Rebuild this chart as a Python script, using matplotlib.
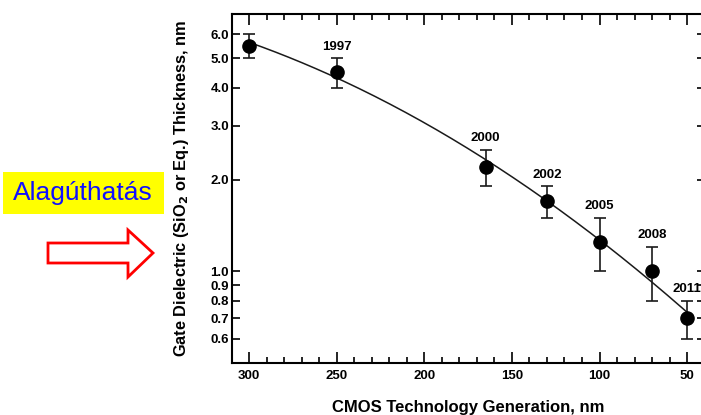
import numpy as np
import matplotlib.pyplot as plt
from matplotlib.patches import Polygon, Rectangle
from matplotlib.ticker import FixedLocator, MultipleLocator, FormatStrFormatter

plt.rcParams["font.family"] = ["Liberation Sans", "DejaVu Sans"]

# data
gen_nm = [300, 250, 165, 130, 100, 70, 50]
thickness = [5.5, 4.5, 2.2, 1.7, 1.25, 1.0, 0.7]
err_top = [6.0, 5.0, 2.5, 1.9, 1.5, 1.2, 0.8]
err_bottom = [5.0, 4.0, 1.9, 1.5, 1.0, 0.8, 0.6]
years = ["", "1997", "2000", "2002", "2005", "2008", "2011"]

# readings along the trend curve
curve_nm = [300, 250, 200, 165, 130, 100, 70, 50]
curve_t = [5.6, 4.4, 3.05, 2.3, 1.72, 1.25, 0.93, 0.73]

y_ticks = [0.6, 0.7, 0.8, 0.9, 1.0, 2.0, 3.0, 4.0, 5.0, 6.0]

W, H = 701, 415
fig = plt.figure(figsize=(W / 100, H / 100), dpi=100)
ax = fig.add_axes([231.7 / W, 1 - 362.7 / H, (704.6 - 231.7) / W, (362.7 - 14) / H])

# smooth trend through the curve readings
coef = np.polyfit(curve_nm, np.log10(curve_t), 2)
xs = np.linspace(curve_nm[0], curve_nm[-1], 200)
ax.plot(xs, 10 ** np.polyval(coef, xs), color="#1a1a1a", lw=1.1, zorder=2)

t = np.array(thickness)
yerr = [t - np.array(err_bottom), np.array(err_top) - t]
ax.errorbar(gen_nm, thickness, yerr=yerr, fmt="o", color="black", ms=9.5,
            ecolor="#1a1a1a", elinewidth=1.2, capsize=4, capthick=1.2, zorder=3)

for x, top, lab in zip(gen_nm, err_top, years):
    if lab:
        ax.annotate(lab, xy=(x, top), xytext=(0, 4), textcoords="offset points",
                    ha="center", va="bottom", fontsize=9.5, fontweight="bold",
                    annotation_clip=False)

ax.set_yscale("log")
ax.set_xlim(310, 40)
ax.set_ylim(0.5, 7.0)
ax.yaxis.set_major_locator(FixedLocator(y_ticks))
ax.yaxis.set_minor_locator(FixedLocator([]))
ax.yaxis.set_major_formatter(FormatStrFormatter("%.1f"))
ax.xaxis.set_major_locator(FixedLocator([300, 250, 200, 150, 100, 50]))
ax.xaxis.set_minor_locator(MultipleLocator(10))

ax.tick_params(axis="both", which="both", direction="in", top=True, right=True,
               width=1.2, labelsize=9.5)
ax.tick_params(axis="x", which="major", length=8, pad=5)
ax.tick_params(axis="x", which="minor", length=4)
ax.tick_params(axis="y", which="major", length=6, pad=2)
for lab in ax.get_xticklabels() + ax.get_yticklabels():
    lab.set_fontweight("bold")
for sp in ax.spines.values():
    sp.set_linewidth(1.5)

ax.set_xlabel("CMOS Technology Generation, nm", fontsize=12, fontweight="bold", labelpad=13)
ax.set_ylabel("Gate Dielectric (SiO$_\\mathbf{2}$ or Eq.) Thickness, nm",
              fontsize=11.8, fontweight="bold", labelpad=14)

# yellow label box on the left
fig.patches.append(Rectangle((3 / W, 1 - 214 / H), 161 / W, 42 / H,
                             transform=fig.transFigure, facecolor="#ffff00",
                             edgecolor="none"))
fig.text(83 / W, 1 - 193 / H, "Alagúthatás", color="#1010ff", fontsize=19,
         ha="center", va="center")

# hollow red arrow
arrow_px = [(48, 243), (128, 243), (128, 230), (153, 253), (128, 277),
            (128, 263), (48, 263)]
fig.patches.append(Polygon([(x / W, 1 - y / H) for x, y in arrow_px],
                           closed=True, transform=fig.transFigure,
                           facecolor="white", edgecolor="#ff0000", lw=2))

fig.savefig("out.png", dpi=100)
